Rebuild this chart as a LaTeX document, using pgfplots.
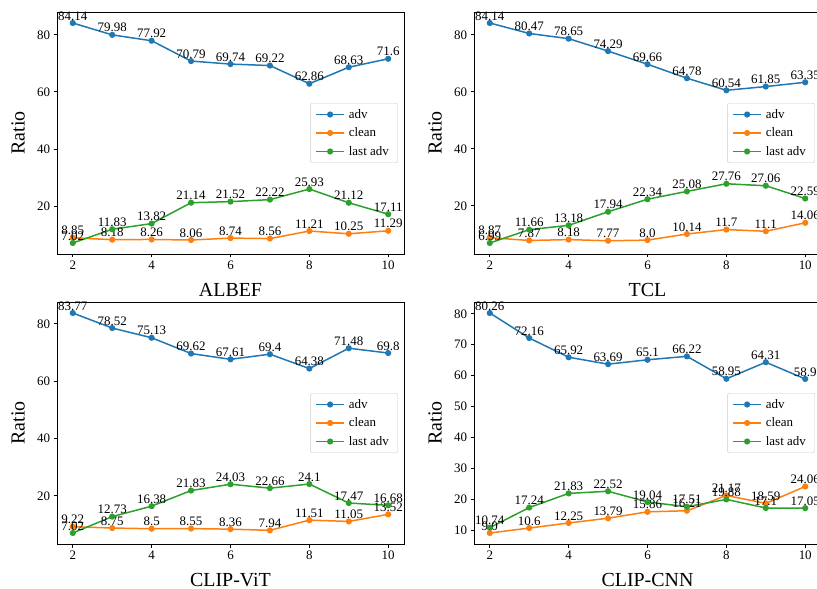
\documentclass[border=0pt]{standalone}
\usepackage{fontspec}
\setmainfont{Liberation Serif}
\usepackage{pgfplots}
\pgfplotsset{compat=1.18}
\definecolor{cblue}{HTML}{1F77B4}
\definecolor{corange}{HTML}{FF7F0E}
\definecolor{cgreen}{HTML}{2CA02C}
\pgfplotsset{
  panel/.style={
    scale only axis, width=347bp, height=242bp,
    xmin=1.6, xmax=10.4, xtick={2,4,6,8,10},
    xtick pos=left, ytick pos=left,
    tick align=outside, major tick length=3.5bp,
    axis line style={line width=0.8bp},
    every tick/.style={line width=0.8bp, black},
    /pgf/number format/assume math mode=true,
    tick label style={font=\fontsize{13}{15}\selectfont},
    clip=false,
    every axis y label/.style={at={(axis description cs:-0.112,0.5)}, anchor=center, rotate=90, font=\fontsize{20}{24}\selectfont},
    every axis x label/.style={at={(axis description cs:0.5,-0.149)}, anchor=center, font=\fontsize{20}{24}\selectfont},
    ylabel={Ratio},
    legend style={at={(1,0.5)}, anchor=east, xshift=-6bp, font=\fontsize{13}{15}\selectfont, draw=black!20, rounded corners=2bp, fill=white, row sep=6bp, inner xsep=5bp, inner ysep=5bp,
      nodes={inner xsep=4bp, inner ysep=1bp}},
    legend cell align=left,
    nodes near coords, point meta=explicit symbolic,
    every node near coord/.style={font=\fontsize{13}{15}\selectfont, anchor=south, inner sep=0pt, yshift=2bp, text=black},
    every axis plot/.append style={line width=1.5bp, mark=*, mark size=2.3bp},
    legend image code/.code={\draw[line width=1.5bp, mark repeat=2,mark phase=2] plot coordinates {(0bp,0bp) (14bp,0bp) (28bp,0bp)};},
  },
}
\begin{document}
\begin{tikzpicture}
\useasboundingbox (0,0) rectangle (817bp,589bp);
% ALBEF
\begin{axis}[panel, at={(57bp,335bp)}, anchor=south west, ymin=3.16, ymax=88.0, ytick={20,40,60,80}, xlabel={ALBEF}]
\addplot[cblue] coordinates {(2,84.14)[84.14] (3,79.98)[79.98] (4,77.92)[77.92] (5,70.79)[70.79] (6,69.74)[69.74] (7,69.22)[69.22] (8,62.86)[62.86] (9,68.63)[68.63] (10,71.6)[71.6]};
\addplot[corange] coordinates {(2,8.85)[8.85] (3,8.18)[8.18] (4,8.26)[8.26] (5,8.06)[8.06] (6,8.74)[8.74] (7,8.56)[8.56] (8,11.21)[11.21] (9,10.25)[10.25] (10,11.29)[11.29]};
\addplot[cgreen] coordinates {(2,7.02)[7.02] (3,11.83)[11.83] (4,13.82)[13.82] (5,21.14)[21.14] (6,21.52)[21.52] (7,22.22)[22.22] (8,25.93)[25.93] (9,21.12)[21.12] (10,17.11)[17.11]};
\legend{adv,clean,last adv}
\end{axis}
% TCL
\begin{axis}[panel, at={(474bp,335bp)}, anchor=south west, ymin=3.13, ymax=88.0, ytick={20,40,60,80}, xlabel={TCL}]
\addplot[cblue] coordinates {(2,84.14)[84.14] (3,80.47)[80.47] (4,78.65)[78.65] (5,74.29)[74.29] (6,69.66)[69.66] (7,64.78)[64.78] (8,60.54)[60.54] (9,61.85)[61.85] (10,63.35)[63.35]};
\addplot[corange] coordinates {(2,8.87)[8.87] (3,7.87)[7.87] (4,8.18)[8.18] (5,7.77)[7.77] (6,8.0)[8.0] (7,10.14)[10.14] (8,11.7)[11.7] (9,11.1)[11.1] (10,14.06)[14.06]};
\addplot[cgreen] coordinates {(2,6.99)[6.99] (3,11.66)[11.66] (4,13.18)[13.18] (5,17.94)[17.94] (6,22.34)[22.34] (7,25.08)[25.08] (8,27.76)[27.76] (9,27.06)[27.06] (10,22.59)[22.59]};
\legend{adv,clean,last adv}
\end{axis}
% CLIP-ViT
\begin{axis}[panel, at={(57bp,45bp)}, anchor=south west, ymin=3.18, ymax=87.61, ytick={20,40,60,80}, xlabel={CLIP-ViT}]
\addplot[cblue] coordinates {(2,83.77)[83.77] (3,78.52)[78.52] (4,75.13)[75.13] (5,69.62)[69.62] (6,67.61)[67.61] (7,69.4)[69.4] (8,64.38)[64.38] (9,71.48)[71.48] (10,69.8)[69.8]};
\addplot[corange] coordinates {(2,9.22)[9.22] (3,8.75)[8.75] (4,8.5)[8.5] (5,8.55)[8.55] (6,8.36)[8.36] (7,7.94)[7.94] (8,11.51)[11.51] (9,11.05)[11.05] (10,13.52)[13.52]};
\addplot[cgreen] coordinates {(2,7.02)[7.02] (3,12.73)[12.73] (4,16.38)[16.38] (5,21.83)[21.83] (6,24.03)[24.03] (7,22.66)[22.66] (8,24.1)[24.1] (9,17.47)[17.47] (10,16.68)[16.68]};
\legend{adv,clean,last adv}
\end{axis}
% CLIP-CNN
\begin{axis}[panel, at={(474bp,45bp)}, anchor=south west, ymin=5.44, ymax=83.82, ytick={10,20,30,40,50,60,70,80}, xlabel={CLIP-CNN}]
\addplot[cblue] coordinates {(2,80.26)[80.26] (3,72.16)[72.16] (4,65.92)[65.92] (5,63.69)[63.69] (6,65.1)[65.1] (7,66.22)[66.22] (8,58.95)[58.95] (9,64.31)[64.31] (10,58.9)[58.9]};
\addplot[corange] coordinates {(2,9.0)[9.0] (3,10.6)[10.6] (4,12.25)[12.25] (5,13.79)[13.79] (6,15.86)[15.86] (7,16.21)[16.21] (8,21.17)[21.17] (9,18.59)[18.59] (10,24.06)[24.06]};
\addplot[cgreen] coordinates {(2,10.74)[10.74] (3,17.24)[17.24] (4,21.83)[21.83] (5,22.52)[22.52] (6,19.04)[19.04] (7,17.51)[17.51] (8,19.88)[19.88] (9,17.1)[17.1] (10,17.05)[17.05]};
\legend{adv,clean,last adv}
\end{axis}
\end{tikzpicture}
\end{document}
